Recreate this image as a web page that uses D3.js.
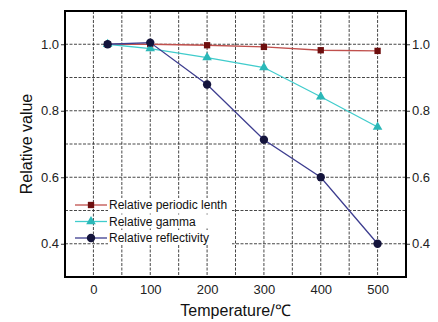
<!DOCTYPE html>
<html><head><meta charset="utf-8">
<script src="https://cdn.jsdelivr.net/npm/d3@7"></script>
<style>body{margin:0;background:#fff;} svg{display:block;}</style>
</head><body>
<svg id="c" width="438" height="322"></svg>
<script>
const temperatures = [25, 100, 200, 300, 400, 500];
const periodic = [1.0, 1.0, 0.997, 0.992, 0.982, 0.980];
const gamma = [1.0, 0.987, 0.960, 0.930, 0.842, 0.751];
const reflectivity = [1.0, 1.005, 0.879, 0.713, 0.600, 0.400];
const xTicks = [0, 100, 200, 300, 400, 500];
const yTicks = [0.4, 0.6, 0.8, 1.0];
const seriesNames = ["Relative periodic lenth", "Relative gamma", "Relative reflectivity"];

const svg = d3.select("#c");
const L = 65, R = 406, T = 11, B = 277;
const x = d3.scaleLinear().domain([-50, 550]).range([L, R]);
const y = d3.scaleLinear().domain([0.3, 1.1]).range([B, T]);

// grid
const g = svg.append("g");
d3.range(-50, 551, 50).forEach(v => {
  g.append("line").attr("x1", x(v)).attr("x2", x(v)).attr("y1", T).attr("y2", B)
    .attr("stroke", "#333").attr("stroke-width", 0.9).attr("stroke-dasharray", "3,1.5");
});
d3.range(3, 12).map(v => v / 10).forEach(v => {
  g.append("line").attr("x1", L).attr("x2", R).attr("y1", y(v)).attr("y2", y(v))
    .attr("stroke", "#333").attr("stroke-width", 0.9).attr("stroke-dasharray", "3,1.5");
});

// axes
const fmt = d3.format(".1f");
svg.append("g").attr("transform", `translate(0,${B})`)
  .call(d3.axisBottom(x).tickValues(xTicks).tickSize(0).tickPadding(8))
  .call(a => { a.select(".domain").remove(); a.selectAll("text").attr("font-size", 13).attr("font-family", "Liberation Sans, Arial").attr("fill", "#222"); });
svg.append("g").attr("transform", `translate(${L},0)`)
  .call(d3.axisLeft(y).tickValues(yTicks).tickFormat(fmt).tickSize(4).tickPadding(2))
  .call(a => { a.select(".domain").remove(); a.selectAll("line").attr("stroke", "#333"); a.selectAll("text").attr("font-size", 13).attr("font-family", "Liberation Sans, Arial").attr("fill", "#222"); });
svg.append("g").attr("transform", `translate(${R},0)`)
  .call(d3.axisRight(y).tickValues(yTicks).tickFormat(fmt).tickSize(4).tickPadding(2))
  .call(a => { a.select(".domain").remove(); a.selectAll("line").attr("stroke", "#333"); a.selectAll("text").attr("font-size", 13).attr("font-family", "Liberation Sans, Arial").attr("fill", "#222"); });

// frame
svg.append("rect").attr("x", L).attr("y", T).attr("width", R - L).attr("height", B - T)
  .attr("fill", "none").attr("stroke", "#000").attr("stroke-width", 2);

// series
const series = [
  {vals: periodic, line: "#c0504d", mark: "#6e0f0f", shape: d3.symbolSquare, size: 40},
  {vals: gamma, line: "#40cccc", mark: "#2bb8b8", shape: d3.symbolTriangle, size: 40},
  {vals: reflectivity, line: "#3d3d8f", mark: "#14143c", shape: d3.symbolCircle, size: 55}
];
const lineGen = d3.line().x(d => x(d[0])).y(d => y(d[1]));
series.forEach(s => {
  const pts = temperatures.map((t, i) => [t, s.vals[i]]);
  svg.append("path").attr("d", lineGen(pts)).attr("fill", "none").attr("stroke", s.line).attr("stroke-width", 1.3);
  svg.selectAll(null).data(pts).enter().append("path")
    .attr("d", d3.symbol().type(s.shape).size(s.size))
    .attr("transform", d => `translate(${x(d[0])},${y(d[1])})`)
    .attr("fill", s.mark);
});

// legend
series.forEach((s, i) => {
  const ly = 205 + i * 16.5;
  svg.append("rect").attr("x", 108).attr("y", ly - 7).attr("width", 124).attr("height", 14).attr("fill", "#fff");
  svg.append("line").attr("x1", 75).attr("x2", 107).attr("y1", ly).attr("y2", ly).attr("stroke", s.line).attr("stroke-width", 1.3);
  svg.append("path").attr("d", d3.symbol().type(s.shape).size(s.size)).attr("transform", `translate(91,${ly})`).attr("fill", s.mark);
  svg.append("text").attr("x", 109).attr("y", ly).attr("dy", "0.35em").attr("font-size", 12)
    .attr("font-family", "Liberation Sans, Arial").attr("fill", "#111").text(seriesNames[i]);
});

// titles
svg.append("text").attr("x", (L + R) / 2).attr("y", 316).attr("text-anchor", "middle")
  .attr("font-size", 16).attr("font-family", "Liberation Sans, Arial").attr("fill", "#111").text("Temperature/℃");
svg.append("text").attr("transform", `translate(32,${(T + B) / 2}) rotate(-90)`).attr("text-anchor", "middle")
  .attr("font-size", 16).attr("font-family", "Liberation Sans, Arial").attr("fill", "#111").text("Relative value");
</script>
</body></html>
